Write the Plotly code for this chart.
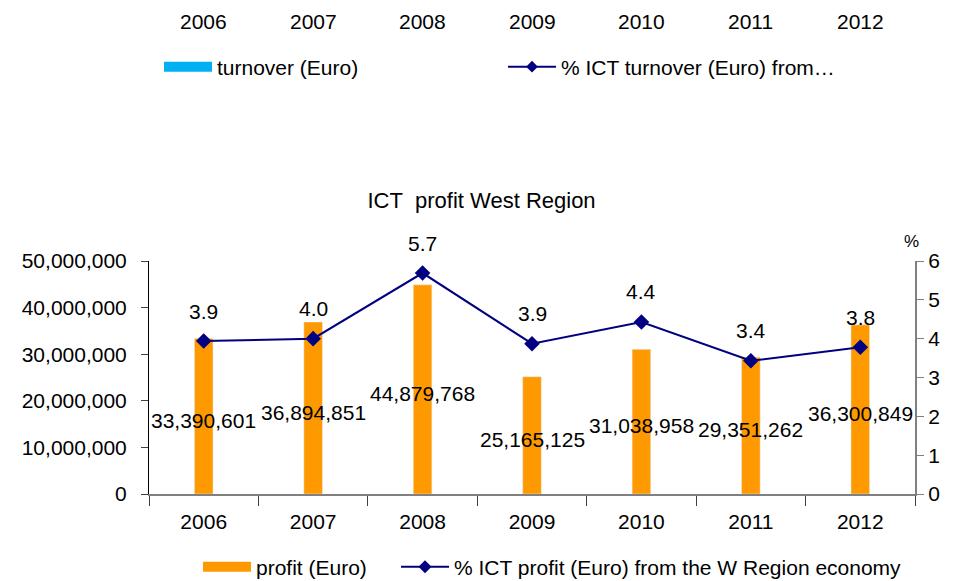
import plotly.graph_objects as go

years = ["2006", "2007", "2008", "2009", "2010", "2011", "2012"]
profit = [33390601, 36894851, 44879768, 25165125, 31038958, 29351262, 36300849]
pct = [3.9, 4.0, 5.7, 3.9, 4.4, 3.4, 3.8]
pct_marker = [3.94, 4.0, 5.69, 3.87, 4.43, 3.43, 3.78]
left_ticks = [0, 10000000, 20000000, 30000000, 40000000, 50000000]
right_ticks = [0, 1, 2, 3, 4, 5, 6]

FONT = "Liberation Sans, Arial, sans-serif"
FS = 21
ORANGE = "#FF9900"
NAVY = "#000080"
CYAN = "#00B0F0"
W, H = 947, 573  # page body has an 8px margin

fig = go.Figure()

fig.add_trace(go.Bar(x=years, y=profit, marker_color=ORANGE, width=0.17,
                     showlegend=False, yaxis="y"))
fig.add_trace(go.Scatter(x=years, y=pct_marker, mode="lines+markers", yaxis="y2",
                         line=dict(color=NAVY, width=2),
                         marker=dict(symbol="diamond", size=12, color=NAVY),
                         showlegend=False))

# legend entries (bottom)
fig.add_trace(go.Scatter(x=[years[0]], y=[None], mode="lines", name="profit (Euro)",
                         line=dict(color=ORANGE, width=11), legend="legend"))
fig.add_trace(go.Scatter(x=[years[0]], y=[None], mode="lines+markers",
                         name="% ICT profit (Euro) from the W Region economy",
                         line=dict(color=NAVY, width=2),
                         marker=dict(symbol="diamond", size=10, color=NAVY), legend="legend2"))
# legend entries (top, remnant of previous chart)
fig.add_trace(go.Scatter(x=[years[0]], y=[None], mode="lines", name="turnover (Euro)",
                         line=dict(color=CYAN, width=11), legend="legend3"))
fig.add_trace(go.Scatter(x=[years[0]], y=[None], mode="lines+markers",
                         name="% ICT turnover (Euro) from…",
                         line=dict(color=NAVY, width=2),
                         marker=dict(symbol="diamond", size=9, color=NAVY), legend="legend4"))

annotations = []
for i, v in enumerate(profit):
    annotations.append(dict(x=i, y=v / 2, xref="x", yref="y", text=f"{v:,}",
                            xanchor="center", yanchor="middle", yshift=-4,
                            showarrow=False, font=dict(size=FS, color="black")))
for i, (v, m) in enumerate(zip(pct, pct_marker)):
    annotations.append(dict(x=i, y=m, xref="x", yref="y2", text=f"{v:.1f}",
                            xanchor="center", yanchor="middle", yshift=30,
                            showarrow=False, font=dict(size=FS, color="black")))
for i, yr in enumerate(years):
    annotations.append(dict(x=i, y=2.026, xref="x", yref="paper", text=yr,
                            xanchor="center", yanchor="middle",
                            showarrow=False, font=dict(size=FS, color="black")))
annotations.append(dict(x=0.996, y=1.082, xref="paper", yref="paper", text="%",
                        xanchor="center", yanchor="middle",
                        showarrow=False, font=dict(size=17, color="black")))


def leg(x, y, w):
    return dict(orientation="h", x=x, xref="container", xanchor="left",
                y=y, yref="container", yanchor="middle", itemwidth=w,
                font=dict(size=FS), bgcolor="rgba(0,0,0,0)")


fig.update_layout(
    width=W, height=H,
    margin=dict(l=141, r=40, t=253, b=87),
    paper_bgcolor="white", plot_bgcolor="white",
    font=dict(family=FONT, size=FS, color="black"),
    title=dict(text="ICT\u00a0 profit West Region", x=0.5, xanchor="center",
               y=1 - 192 / H, yanchor="middle", font=dict(size=22)),
    xaxis=dict(type="category", categoryorder="array", categoryarray=years,
               range=[-0.5, 6.5], showline=True, linecolor="#808080", linewidth=2,
               ticks="outside", ticklen=10, tickcolor="#404040", tickson="boundaries",
               tickangle=0, ticklabelstandoff=8, showgrid=False, zeroline=False,
               tickfont=dict(size=FS)),
    yaxis=dict(range=[0, 50000000], tickvals=left_ticks, tickformat=",d",
               showline=True, linecolor="black", linewidth=1, ticks="outside",
               ticklen=7, tickcolor="#404040", showgrid=False, zeroline=False,
               ticklabelstandoff=10, tickfont=dict(size=FS)),
    yaxis2=dict(range=[0, 6], tickvals=right_ticks, overlaying="y", side="right",
                showline=True, linecolor="#808080", linewidth=2, ticks="outside",
                ticklen=7, tickcolor="#808080", showgrid=False, zeroline=False,
                tickfont=dict(size=FS)),
    legend=leg(190 / W, 1 - 559 / H, 48),
    legend2=leg(388 / W, 1 - 559 / H, 48),
    legend3=leg(151 / W, 1 - 59 / H, 48),
    legend4=leg(495 / W, 1 - 59 / H, 48),
    annotations=annotations,
)

fig.write_html("out.html")
